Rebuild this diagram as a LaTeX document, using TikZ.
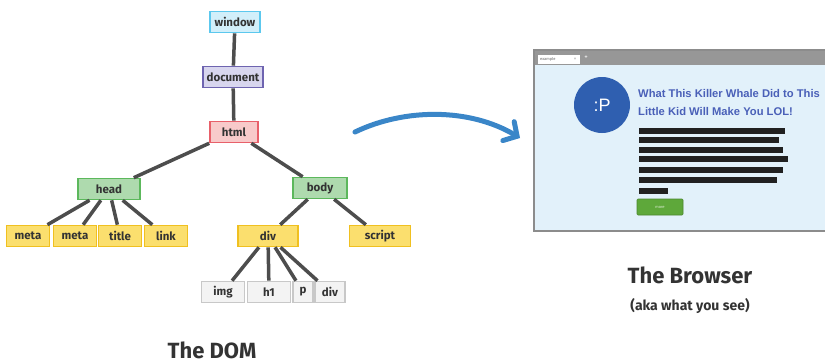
\documentclass[tikz,border=0pt]{standalone}
\usepackage{fontspec}
\setmainfont{Fira Sans}
\newfontfamily\webfont{Liberation Sans}
\usetikzlibrary{arrows.meta}

\definecolor{edgegray}{HTML}{4D4D4D}
\definecolor{textdark}{HTML}{333333}
\definecolor{winline}{HTML}{5CC8EE}
\definecolor{winfill}{HTML}{D2EFFA}
\definecolor{docline}{HTML}{6E64B0}
\definecolor{docfill}{HTML}{D8D6EE}
\definecolor{htmlline}{HTML}{E8606A}
\definecolor{htmlfill}{HTML}{F8CACA}
\definecolor{greenline}{HTML}{5CB85C}
\definecolor{greenfill}{HTML}{AEDAAE}
\definecolor{yelline}{HTML}{F0C020}
\definecolor{yelfill}{HTML}{FBDF6E}
\definecolor{grayline}{HTML}{C8C8C8}
\definecolor{grayfill}{HTML}{F3F3F3}
\definecolor{arrowblue}{HTML}{3A86C8}
\definecolor{pageblue}{HTML}{E2F1FA}
\definecolor{frame}{HTML}{8C8C8C}
\definecolor{circblue}{HTML}{2F5FB0}
\definecolor{headblue}{HTML}{4A60B8}
\definecolor{btngreen}{HTML}{5EA83A}

\begin{document}
\begin{tikzpicture}[x=1pt,y=-1pt,
  box/.style={draw,line width=1.6pt,minimum height=21pt,inner sep=1.5pt,
    font=\fontsize{11.5}{13}\selectfont\bfseries,text=textdark},
  winbox/.style={box,draw=winline,fill=winfill},
  docbox/.style={box,draw=docline,fill=docfill},
  htmlbox/.style={box,draw=htmlline,fill=htmlfill},
  greenbox/.style={box,draw=greenline,fill=greenfill},
  yelbox/.style={box,draw=yelline,fill=yelfill},
  graybox/.style={box,draw=grayline,fill=grayfill},
  link/.style={edgegray,line width=3.5pt},
  bar/.style={fill=black!87},
  title/.style={text=textdark,font=\fontsize{22}{26}\selectfont\bfseries}]
  \useasboundingbox (0,0) rectangle (825,364);
  % DOM tree
  \node[winbox,minimum width=50pt] (win) at (235,22) {window};
  \node[docbox,minimum width=60pt] (doc) at (233,77) {document};
  \node[htmlbox,minimum width=48pt] (html) at (234,132) {html};
  \node[greenbox,minimum width=62pt] (head) at (109,189) {head};
  \node[greenbox,minimum width=54pt] (body) at (320,188) {body};
  \node[yelbox,minimum width=43pt] (meta1) at (28,236) {meta};
  \node[yelbox,minimum width=43pt] (meta2) at (75,236) {meta};
  \node[yelbox,minimum width=43pt] (title) at (120,236) {title};
  \node[yelbox,minimum width=43pt] (link) at (166,236) {link};
  \node[yelbox,minimum width=60pt] (div) at (268,236) {div};
  \node[yelbox,minimum width=61pt] (script) at (380,236) {script};
  \node[graybox,minimum width=43pt] (img) at (223,292) {img};
  \node[graybox,minimum width=43pt] (h1) at (269,292) {h1};
  \node[graybox,minimum width=20pt] (p) at (303,292) {p};
  \node[graybox,minimum width=30pt] (div2) at (330,292) {div};
  \draw[link] (win) -- (doc);
  \draw[link] (doc) -- (html);
  \draw[link] (html) -- (head);
  \draw[link] (html) -- (body);
  \foreach \c in {meta1,meta2,title,link} \draw[link] (head) -- (\c);
  \draw[link] (body) -- (div);
  \draw[link] (body) -- (script);
  \foreach \c in {img,h1,p,div2} \draw[link] (div) -- (\c);
  \node[title] (dom) at (212,350) {The DOM};
  % arrow
  \coordinate (arrS) at (355,132);
  \coordinate (arrE) at (520,138);
  \draw[arrowblue,line width=5pt,line cap=round,
    -{Straight Barb[length=10pt,width=22pt,line cap=round]}]
    (arrS) .. controls (405,108) and (470,108) .. (arrE);
  % browser window
  \fill[frame!90] (534,50) rectangle (825,65);
  \fill[pageblue] (534,65) rectangle (825,231);
  \draw[frame,line width=2pt] (534,50) rectangle (826,231);
  \fill[white] (538,55) rectangle (580,64);
  \node[font=\fontsize{4}{4}\selectfont,text=black!60,anchor=west,inner sep=0pt] (tab) at (540,59.5) {example};
  \node[font=\fontsize{5}{5}\selectfont,text=black!40,inner sep=0pt] (tabx) at (575,59.5) {×};
  \node[font=\fontsize{7}{7}\selectfont,text=white,inner sep=0pt] (tabplus) at (586,58) {+};
  \node[circle,fill=circblue,minimum size=56pt,text=white,
    font=\webfont\fontsize{18}{18}\selectfont] (face) at (602,105) {:P};
  \node[anchor=west,align=left,text=headblue,inner sep=0pt,
    font=\webfont\bfseries\fontsize{11.2}{18}\selectfont] (headline) at (638,102)
    {What This Killer Whale Did to This\\Little Kid Will Make You LOL!};
  \foreach \y/\r in {131/785,140/779,150/783,159/788,170/783,180/777,191/668}
    \fill[bar] (639,\y-3.4) rectangle (\r,\y+3.4);
  \node[fill=btngreen,draw=btngreen!80!black,line width=0.6pt,rounded corners=1pt,
    minimum width=46pt,minimum height=16pt,inner sep=0pt,text=white!80!btngreen,
    font=\webfont\fontsize{4}{4}\selectfont] (more) at (660,207) {more};
  \node[title] (browser) at (690,275) {The Browser};
  \node[text=textdark,font=\fontsize{14}{16}\selectfont\bfseries] (aka) at (690,306) {(aka what you see)};
\end{tikzpicture}
\end{document}
